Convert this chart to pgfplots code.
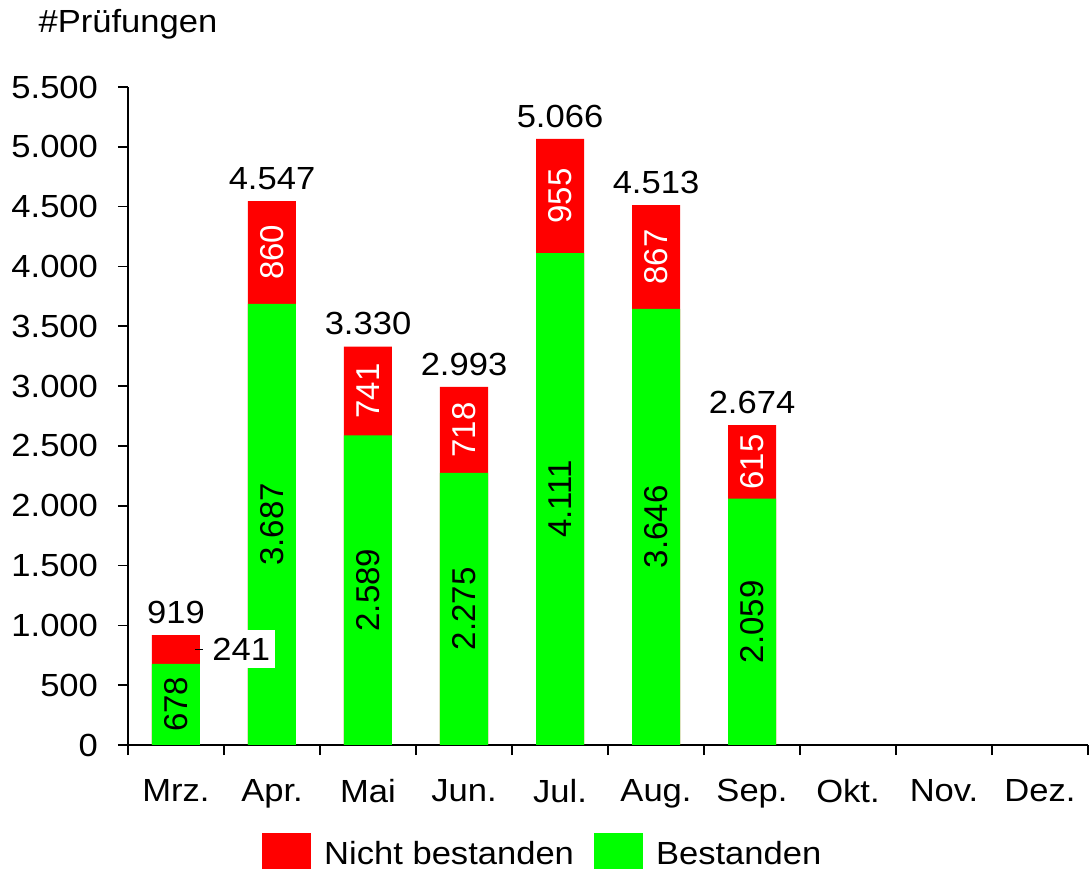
\documentclass[border=0pt]{standalone}
\usepackage{pgfplots}
\pgfplotsset{compat=1.18}
\usepackage{pgfplotstable}
\usepackage{fontspec}
\setmainfont{Liberation Sans}[FakeStretch=1.08]
\newfontfamily\rotfont{Liberation Sans}
\newcommand\cf{\fontsize{16}{19}\selectfont}
\newcommand\rf{\rotfont\fontsize{16.5}{19}\selectfont}
\pgfkeys{/pgf/number format/.cd,1000 sep={.},assume math mode=true}

\pgfplotstableread{
x g r t
0 678 241 919
1 3687 860 4547
2 2589 741 3330
3 2275 718 2993
4 4111 955 5066
5 3646 867 4513
6 2059 615 2674
}\data

\begin{document}
\begin{tikzpicture}[font=\cf]
\begin{axis}[
  scale only axis, width=480pt, height=329pt,
  xmin=-0.5, xmax=9.5, ymin=0, ymax=5500,
  axis x line=bottom, axis y line=left,
  axis line style={-, line width=0.8pt},
  xtick={-0.5,0.5,...,9.5}, x tick label as interval,
  xticklabels={Mrz.,Apr.,Mai,Jun.,Jul.,Aug.,Sep.,Okt.,Nov.,Dez.},
  ytick={0,500,...,5500},
  tick align=outside, major tick length=5pt,
  tick style={black, line width=0.8pt},
  yticklabel style={xshift=-6.5pt},
  xticklabel style={yshift=-8.5pt},
  legend style={at={(0.431,-0.1626)}, anchor=center, draw=none, fill=none,
    legend columns=2, nodes={inner sep=0pt},
    /tikz/every odd column/.append style={column sep=6.5pt},
    /tikz/every even column/.append style={column sep=10pt}},
  legend image code/.code={\fill[#1] (0pt,-8.5pt) rectangle (24.5pt,10.5pt);},
  clip=false,
]
\addplot[ybar, bar width=24pt, bar shift=0pt, fill=red, draw=none] table[x=x, y=t] \data;
\addlegendentry{Nicht bestanden}
\addplot[ybar, bar width=24pt, bar shift=0pt, fill=green, draw=none] table[x=x, y=g] \data;
\addlegendentry{Bestanden}

% green segment labels
\addplot[draw=none, forget plot, nodes near coords, point meta=explicit,
  every node near coord/.style={rotate=90, anchor=center, text=black, font=\rf}]
  table[x=x, y expr=\thisrow{g}/2, meta=g] \data;
% red segment labels
\addplot[draw=none, forget plot, nodes near coords, point meta=explicit,
  skip coords between index={0}{1},
  every node near coord/.style={rotate=90, anchor=center, text=white, font=\rf}]
  table[x=x, y expr=\thisrow{g}+\thisrow{r}/2, meta=r] \data;
% totals
\addplot[draw=none, forget plot, nodes near coords, point meta=explicit,
  every node near coord/.style={anchor=south, yshift=2.2pt, text=black}]
  table[x=x, y=t, meta=t] \data;
% Mrz. red label outside
\addplot[black, line width=0.6pt, forget plot] coordinates {(0.2,800) (0.285,800)};
\addplot[draw=none, forget plot, nodes near coords, point meta=explicit symbolic,
  every node near coord/.style={anchor=west, fill=white, text=black, inner xsep=2.5pt, inner ysep=4pt}]
  coordinates {(0.323,800) [241]};

\node[anchor=base, yshift=27pt] at (rel axis cs:0,1) {\#Prüfungen};
\coordinate (bl) at (rel axis cs:-0.13333,-0.18845);
\coordinate (tr) at (rel axis cs:1.00104,1.13222);
\end{axis}
\pgfresetboundingbox
\path[use as bounding box] (bl) rectangle (tr);
\end{tikzpicture}
\end{document}
